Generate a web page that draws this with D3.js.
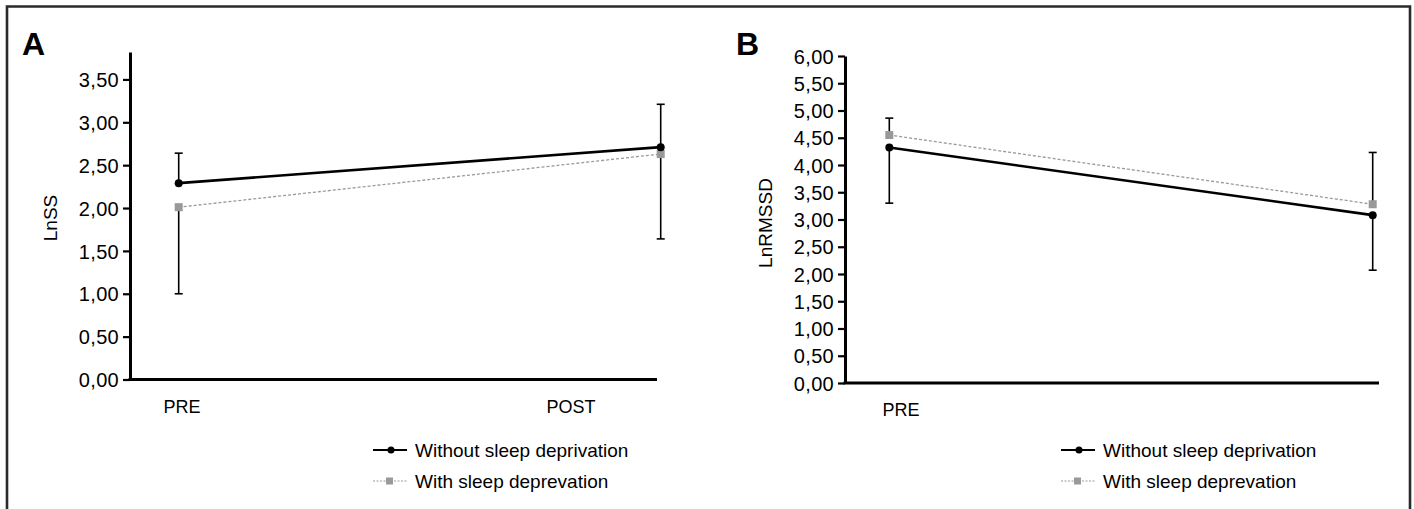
<!DOCTYPE html>
<html><head><meta charset="utf-8">
<script src="https://cdn.jsdelivr.net/npm/d3@7"></script>
<style>
body{margin:0;background:#fff;}
svg text{font-family:"Liberation Sans",Arial,sans-serif;fill:#000;}
</style></head>
<body>
<svg id="chart" width="1414" height="509"></svg>
<script>
// ---- data ----
const categories = ["PRE", "POST"];
const seriesNames = ["Without sleep deprivation", "With sleep deprevation"];
// Panel A (LnSS)
const lnssWithout = [2.29, 2.71];
const lnssWith = [2.01, 2.63];
const lnssErrUpper = [2.64, 3.21];   // upper end of error bars (from higher series)
const lnssErrLower = [1.00, 1.64];   // lower end of error bars (from lower series)
const lnssTicks = [0, 0.5, 1, 1.5, 2, 2.5, 3, 3.5];
// Panel B (LnRMSSD)
const rmssdWithout = [4.32, 3.08];
const rmssdWith = [4.55, 3.28];
const rmssdErrUpper = [4.86, 4.23];
const rmssdErrLower = [3.30, 2.07];
const rmssdTicks = [0, 0.5, 1, 1.5, 2, 2.5, 3, 3.5, 4, 4.5, 5, 5.5, 6];
const panelBCatLabels = ["PRE"];

const svg = d3.select("#chart");
const fmt = v => d3.format(".2f")(v).replace(".", ",");

// frame
svg.append("path").attr("d","M7,520 L7,6.5 L1410,6.5 L1410,520")
  .attr("fill","none").attr("stroke","#2a2a2a").attr("stroke-width",2.6);

function panel(cfg){
  const g = svg.append("g");
  const y = d3.scaleLinear().domain(cfg.yDomain).range([cfg.y0, cfg.yTop]);
  const x = d3.scalePoint().domain(categories).range(cfg.xRange);
  const xl = d3.scalePoint().domain(categories).range(cfg.labelRange);

  // y axis
  const ya = g.append("g").attr("transform",`translate(${cfg.axisX},0)`)
    .call(d3.axisLeft(y).tickValues(cfg.ticks).tickFormat(fmt).tickSize(7).tickSizeOuter(0).tickPadding(4));
  ya.select(".domain").attr("stroke","#000").attr("stroke-width",3);
  ya.selectAll(".tick line").attr("stroke","#000").attr("stroke-width",2.2);
  ya.selectAll(".tick text").style("font-size","20px").style("letter-spacing","0.3px")
    .attr("fill","#000").attr("dy","0.36em");

  // x axis line
  g.append("line").attr("x1",cfg.axisX-1.5).attr("x2",cfg.xEnd)
    .attr("y1",y(0)).attr("y2",y(0)).attr("stroke","#000").attr("stroke-width",3);
  g.selectAll("text.cat").data(cfg.catLabels).join("text").attr("class","cat")
    .attr("x",d=>xl(d)).attr("y",y(0)+33).attr("text-anchor","middle")
    .style("font-size","18px").text(d=>d);

  // axis title
  g.append("text").attr("transform",`translate(${cfg.titleX},${cfg.titleY}) rotate(-90)`)
    .attr("text-anchor","middle").attr("dy","0.35em").style("font-size","19px").text(cfg.title);

  // panel letter
  g.append("text").attr("x",cfg.letterX).attr("y",cfg.letterY)
    .style("font-size","32px").style("font-weight","bold").style("font-family","'Liberation Sans',Arial,sans-serif")
    .text(cfg.letter);

  // gray dashed line
  const line = d3.line().x((d,i)=>x(categories[i])).y(d=>y(d));
  g.append("path").attr("d",line(cfg.withVals)).attr("fill","none")
    .attr("stroke","#9a9a9a").attr("stroke-width",1.3).attr("stroke-dasharray","3,2");
  // error bars
  categories.forEach((c,i)=>{
    const hiVal = Math.max(cfg.withoutVals[i], cfg.withVals[i]);
    const loVal = Math.min(cfg.withoutVals[i], cfg.withVals[i]);
    const xx = x(c);
    g.append("line").attr("x1",xx).attr("x2",xx).attr("y1",y(hiVal)).attr("y2",y(cfg.errUpper[i]))
      .attr("stroke","#000").attr("stroke-width",1.6);
    g.append("line").attr("x1",xx).attr("x2",xx).attr("y1",y(loVal)).attr("y2",y(cfg.errLower[i]))
      .attr("stroke","#000").attr("stroke-width",1.6);
    [cfg.errUpper[i], cfg.errLower[i]].forEach(v=>{
      g.append("line").attr("x1",xx-4).attr("x2",xx+4).attr("y1",y(v)).attr("y2",y(v))
        .attr("stroke","#000").attr("stroke-width",1.6);
    });
  });
  // black line
  g.append("path").attr("d",line(cfg.withoutVals)).attr("fill","none")
    .attr("stroke","#000").attr("stroke-width",2.6);
  // markers
  g.selectAll("rect.m").data(cfg.withVals).join("rect").attr("class","m")
    .attr("x",(d,i)=>x(categories[i])-4).attr("y",d=>y(d)-4).attr("width",8).attr("height",8)
    .attr("fill","#999");
  g.selectAll("circle.m").data(cfg.withoutVals).join("circle").attr("class","m")
    .attr("cx",(d,i)=>x(categories[i])).attr("cy",d=>y(d)).attr("r",4).attr("fill","#000");

  // legend
  const lg = g.append("g").attr("transform",`translate(${cfg.legendX},450)`);
  lg.append("line").attr("x1",0).attr("x2",34).attr("y1",0).attr("y2",0).attr("stroke","#000").attr("stroke-width",2);
  lg.append("circle").attr("cx",18).attr("cy",0).attr("r",3.5).attr("fill","#000");
  lg.append("text").attr("x",42).attr("y",0).attr("dy","0.35em").style("font-size","19px").text(seriesNames[0]);
  lg.append("line").attr("x1",0).attr("x2",34).attr("y1",31).attr("y2",31).attr("stroke","#999")
    .attr("stroke-width",1).attr("stroke-dasharray","2,1.5");
  lg.append("rect").attr("x",13).attr("y",27.5).attr("width",7).attr("height",7).attr("fill","#999");
  lg.append("text").attr("x",42).attr("y",31).attr("dy","0.35em").style("font-size","19px").text(seriesNames[1]);
}

panel({yDomain:[0,3.82], y0:379.5, yTop:52, xRange:[178.7,660.7], labelRange:[182,571],
  axisX:130, xEnd:657, ticks:lnssTicks, catLabels:categories, title:"LnSS", titleX:50, titleY:218,
  letter:"A", letterX:22, letterY:55, withoutVals:lnssWithout, withVals:lnssWith,
  errUpper:lnssErrUpper, errLower:lnssErrLower, legendX:373});

panel({yDomain:[0,6], y0:383, yTop:56, xRange:[889.3,1372.7], labelRange:[901,1290],
  axisX:845, xEnd:1379, ticks:rmssdTicks, catLabels:panelBCatLabels, title:"LnRMSSD", titleX:765, titleY:223,
  letter:"B", letterX:736, letterY:55, withoutVals:rmssdWithout, withVals:rmssdWith,
  errUpper:rmssdErrUpper, errLower:rmssdErrLower, legendX:1061});
</script>
</body></html>
